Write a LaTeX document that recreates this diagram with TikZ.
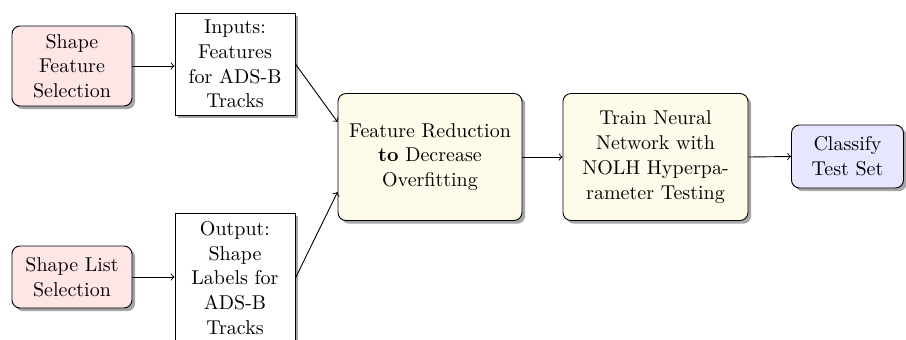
\documentclass[tikz,border=0pt]{standalone}
\usetikzlibrary{shadows,calc}
\definecolor{pinkf}{HTML}{FFE6E6}
\definecolor{yelf}{HTML}{FFFBEA}
\definecolor{bluef}{HTML}{E6E6FF}
\tikzset{
  base/.style={draw, line width=0.45pt, align=center, inner sep=0pt,
    font=\fontsize{10pt}{12.4pt}\selectfont,
    drop shadow={shadow xshift=1.6pt, shadow yshift=-1.6pt, fill=black!35, opacity=1}},
  rbox/.style={base, rounded corners=4pt},
  sbox/.style={base, fill=white},
  conn/.style={->, line width=0.45pt, >=to},
}
\begin{document}
\begin{tikzpicture}[x=0.5pt,y=-0.5pt]
\useasboundingbox (0,0) rectangle (906,339);
\node[rbox, fill=pinkf, minimum width=60pt, minimum height=40pt] (sfs) at (72,66) {Shape\\Feature\\Selection};
\node[sbox, minimum width=60pt, minimum height=51pt] (inp) at (235,64) {Inputs:\\Features\\for ADS-B\\Tracks};
\node[rbox, fill=pinkf, minimum width=60pt, minimum height=31pt] (sls) at (72,277) {Shape List\\Selection};
\node[sbox, minimum width=60pt, minimum height=65pt] (out) at (235,278) {Output:\\Shape\\Labels for\\ADS-B\\Tracks};
\node[rbox, fill=yelf, minimum width=92pt, minimum height=63.5pt] (fr) at (430,157) {Feature Reduction\\\textbf{to} Decrease\\Overfitting};
\node[rbox, fill=yelf, minimum width=92.5pt, minimum height=63.5pt] (tnn) at (655.5,157) {Train Neural\\Network with\\NOLH Hyperpa-\\rameter Testing};
\node[rbox, fill=bluef, minimum width=56pt, minimum height=31.5pt] (cls) at (847.5,156.5) {Classify\\Test Set};
\draw[conn] (sfs.east) -- (sfs.east -| inp.west);
\draw[conn] (sls.east) -- (sls.east -| out.west);
\draw[conn] (inp.east) -- ([yshift=17.5pt]fr.west);
\draw[conn] (out.east) -- ([yshift=-17.5pt]fr.west);
\draw[conn] (fr.east) -- (tnn.west);
\draw[conn] (tnn.east) -- (cls.west);
\end{tikzpicture}
\end{document}
